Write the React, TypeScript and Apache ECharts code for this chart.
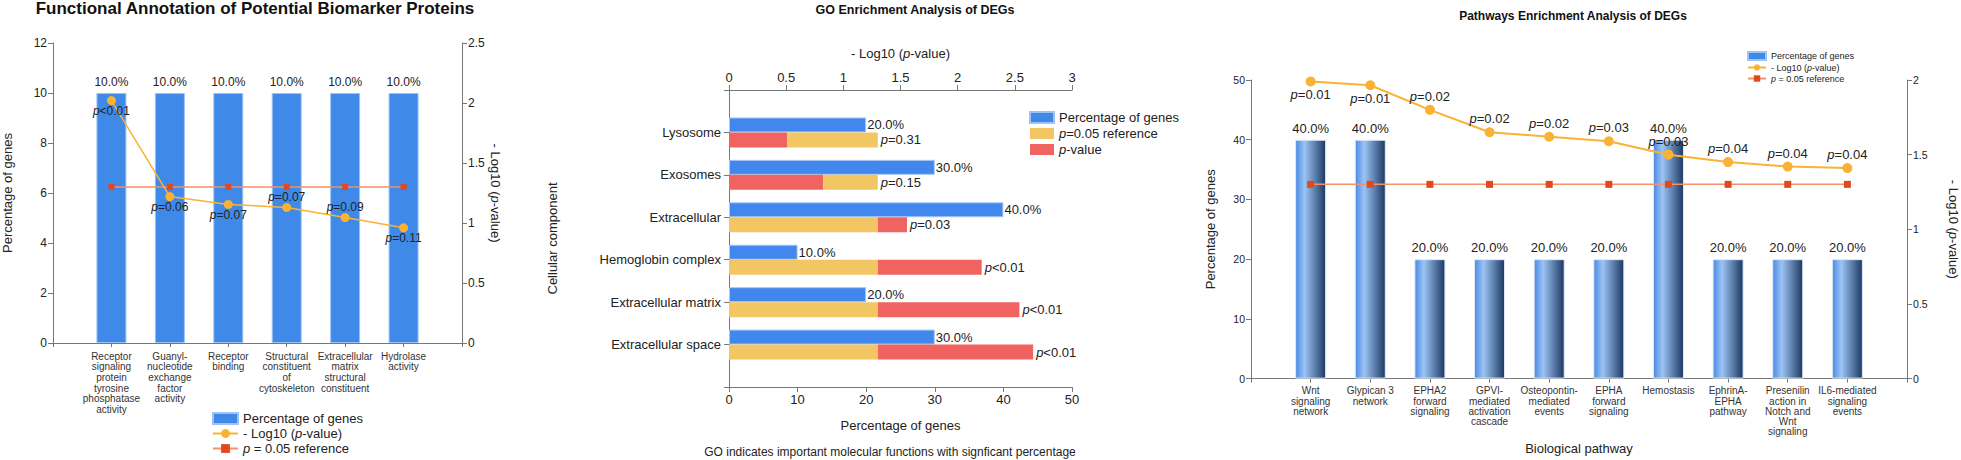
import React, { useEffect, useRef } from 'react';
import * as echarts from 'echarts';

const FONT = 'Arial, "Liberation Sans", Helvetica, sans-serif';

// ---------- Panel 1: Functional annotation ----------
const funcCategories = [
  'Receptor\nsignaling\nprotein\ntyrosine\nphosphatase\nactivity',
  'Guanyl-\nnucleotide\nexchange\nfactor\nactivity',
  'Receptor\nbinding',
  'Structural\nconstituent\nof\ncytoskeleton',
  'Extracellular\nmatrix\nstructural\nconstituent',
  'Hydrolase\nactivity',
];
const funcPercent = [10, 10, 10, 10, 10, 10];
const funcLogP = [2.02, 1.22, 1.155, 1.13, 1.046, 0.96];
const funcPText = ['<0.01', '=0.06', '=0.07', '=0.07', '=0.09', '=0.11'];

// ---------- Panel 2: GO enrichment ----------
const goCategories = [
  'Lysosome',
  'Exosomes',
  'Extracellular',
  'Hemoglobin complex',
  'Extracellular matrix',
  'Extracellular space',
];
const goPercent = [20, 30, 40, 10, 20, 30];
const goLogP = [0.509, 0.824, 1.557, 2.21, 2.54, 2.66];
const goPText = ['=0.31', '=0.15', '=0.03', '<0.01', '<0.01', '<0.01'];

// ---------- Panel 3: Pathway enrichment ----------
const pathCategories = [
  'Wnt\nsignaling\nnetwork',
  'Glypican 3\nnetwork',
  'EPHA2\nforward\nsignaling',
  'GPVI-\nmediated\nactivation\ncascade',
  'Osteopontin-\nmediated\nevents',
  'EPHA\nforward\nsignaling',
  'Hemostasis',
  'EphrinA-\nEPHA\npathway',
  'Presenilin\naction in\nNotch and\nWnt\nsignaling',
  'IL6-mediated\nsignaling\nevents',
];
const pathPercent = [40, 40, 20, 20, 20, 20, 40, 20, 20, 20];
const pathLogP = [1.99, 1.965, 1.8, 1.65, 1.62, 1.59, 1.5, 1.45, 1.42, 1.41];
const pathPText = ['=0.01', '=0.01', '=0.02', '=0.02', '=0.02', '=0.03', '=0.03', '=0.04', '=0.04', '=0.04'];

// -log10(0.05)
const P05_LOG = 1.301;

const padCats = (c: string[]) => [' ', ...c, '  '];
const padData = (d: any[]) => ['-', ...d, '-'];

const TXT = '#222';
const AX = '#777';

function buildOption() {
  const funcPos = ['bottom', 'bottom', 'bottom', 'top', 'top', 'bottom'];
  const pathPos = ['bottom', 'bottom', 'top', 'top', 'top', 'top', 'top', 'top', 'top', 'top'];
  const italic = { i: { fontStyle: 'italic', fontFamily: FONT } };
  const pctLabel = (p: any) => Number(p.value).toFixed(1) + '%';
  const logName = '- Log10 ({i|p}-value)';

  const valueAxisCommon = (fs: number) => ({
    axisLine: { show: true, lineStyle: { color: AX, width: 1 } },
    axisTick: { show: true, length: 5, lineStyle: { color: AX } },
    splitLine: { show: false },
    axisLabel: { fontSize: fs, color: TXT, fontFamily: FONT, margin: 6 },
  });

  const barGradient = new echarts.graphic.LinearGradient(0, 0, 1, 0, [
    { offset: 0, color: '#4a8ae4' },
    { offset: 0.3, color: '#9cc4f4' },
    { offset: 1, color: '#1c3862' },
  ]);

  return {
    animation: false,
    backgroundColor: '#ffffff',
    textStyle: { fontFamily: FONT },
    title: [
      {
        text: 'Functional Annotation of Potential Biomarker Proteins',
        left: 255,
        top: 0,
        padding: 0,
        textAlign: 'center',
        textStyle: { fontSize: 17, fontWeight: 'bold', color: '#111', fontFamily: FONT },
      },
      {
        text: 'GO Enrichment Analysis of DEGs',
        left: 915,
        top: 3,
        padding: 0,
        textAlign: 'center',
        textStyle: { fontSize: 12.5, fontWeight: 'bold', color: '#111', fontFamily: FONT },
      },
      {
        text: 'Pathways Enrichment Analysis of DEGs',
        left: 1573,
        top: 10,
        padding: 0,
        textAlign: 'center',
        textStyle: { fontSize: 12, fontWeight: 'bold', color: '#111', fontFamily: FONT },
      },
      {
        text: 'GO indicates important molecular functions with signficant percentage',
        left: 890,
        top: 446,
        padding: 0,
        textAlign: 'center',
        textStyle: { fontSize: 12, fontWeight: 'normal', color: TXT, fontFamily: FONT },
      },
    ],
    legend: [
      {
        orient: 'vertical',
        left: 212,
        top: 412,
        height: 80,
        padding: 0,
        itemWidth: 25,
        itemHeight: 11,
        itemGap: 2,
        textStyle: { fontSize: 13, color: TXT, fontFamily: FONT, rich: { i: { fontStyle: 'italic', fontSize: 13 } } },
        data: [
          { name: 'Percentage of genes', icon: 'rect' },
          { name: '- Log10 (p-value)' },
          { name: 'p = 0.05 reference' },
        ],
        formatter: (n: string) =>
          n === '- Log10 (p-value)' ? '- Log10 ({i|p}-value)' : n === 'p = 0.05 reference' ? '{i|p} = 0.05 reference' : n,
      },
      {
        orient: 'vertical',
        left: 1029,
        top: 111,
        padding: 0,
        itemWidth: 24,
        itemHeight: 11,
        itemGap: 3,
        textStyle: { fontSize: 13, color: TXT, fontFamily: FONT, rich: { i: { fontStyle: 'italic', fontSize: 13 } } },
        data: [
          { name: 'Percentage of genes', icon: 'rect' },
          { name: 'p=0.05 reference', icon: 'rect' },
          { name: 'p-value', icon: 'rect' },
        ],
        formatter: (n: string) =>
          n === 'p=0.05 reference' ? '{i|p}=0.05 reference' : n === 'p-value' ? '{i|p}-value' : n,
      },
      {
        orient: 'vertical',
        left: 1747,
        top: 51,
        padding: 0,
        itemWidth: 18,
        itemHeight: 8,
        itemGap: 2,
        textStyle: { fontSize: 9, color: TXT, fontFamily: FONT, rich: { i: { fontStyle: 'italic', fontSize: 9 } } },
        data: [
          { name: 'Percentage of genes', icon: 'rect' },
          { name: '- Log10 (p-value)' },
          { name: 'p = 0.05 reference' },
        ],
        formatter: (n: string) =>
          n === '- Log10 (p-value)' ? '- Log10 ({i|p}-value)' : n === 'p = 0.05 reference' ? '{i|p} = 0.05 reference' : n,
      },
    ],
    grid: [
      { left: 53, top: 43, width: 409, height: 300 },
      { left: 729, top: 90, width: 343, height: 297 },
      { left: 1251, top: 80, width: 656, height: 305 },
    ],
    xAxis: [
      {
        type: 'category',
        gridIndex: 0,
        data: padCats(funcCategories),
        boundaryGap: false,
        axisLine: { show: true, lineStyle: { color: AX } },
        axisTick: { show: true, length: 4, lineStyle: { color: AX } },
        axisLabel: { interval: 0, fontSize: 10, lineHeight: 10.6, color: '#333', margin: 8, fontFamily: FONT },
      },
      {
        type: 'value',
        gridIndex: 1,
        position: 'bottom',
        min: 0,
        max: 50,
        interval: 10,
        name: 'Percentage of genes',
        nameLocation: 'middle',
        nameGap: 32,
        nameTextStyle: { fontSize: 13, color: TXT, fontFamily: FONT },
        ...valueAxisCommon(13),
      },
      {
        type: 'value',
        gridIndex: 1,
        position: 'top',
        min: 0,
        max: 3,
        interval: 0.5,
        name: logName,
        nameLocation: 'middle',
        nameGap: 30,
        nameTextStyle: { fontSize: 13, color: TXT, fontFamily: FONT, rich: italic },
        ...valueAxisCommon(13),
      },
      {
        type: 'category',
        gridIndex: 2,
        data: padCats(pathCategories),
        boundaryGap: false,
        name: 'Biological pathway',
        nameLocation: 'middle',
        nameGap: 56,
        nameTextStyle: { fontSize: 13, color: TXT, fontFamily: FONT },
        axisLine: { show: true, lineStyle: { color: AX } },
        axisTick: { show: true, length: 4, lineStyle: { color: AX } },
        axisLabel: { interval: 0, fontSize: 10, lineHeight: 10.3, color: '#333', margin: 7, fontFamily: FONT },
      },
    ],
    yAxis: [
      {
        type: 'value',
        gridIndex: 0,
        position: 'left',
        min: 0,
        max: 12,
        interval: 2,
        name: 'Percentage of genes',
        nameLocation: 'middle',
        nameGap: 39,
        nameTextStyle: { fontSize: 13, color: TXT, fontFamily: FONT },
        ...valueAxisCommon(12),
      },
      {
        type: 'value',
        gridIndex: 0,
        position: 'right',
        min: 0,
        max: 2.5,
        interval: 0.5,
        name: logName,
        nameLocation: 'middle',
        nameRotate: -90,
        nameGap: 21,
        nameTextStyle: { fontSize: 13, color: TXT, fontFamily: FONT, rich: italic },
        ...valueAxisCommon(12),
      },
      {
        type: 'category',
        gridIndex: 1,
        inverse: true,
        data: padCats(goCategories),
        boundaryGap: false,
        name: 'Cellular component',
        nameLocation: 'middle',
        nameGap: 170,
        nameTextStyle: { fontSize: 13, color: TXT, fontFamily: FONT },
        axisLine: { show: true, lineStyle: { color: AX } },
        axisTick: { show: true, length: 5, lineStyle: { color: AX } },
        axisLabel: { interval: 0, fontSize: 13, color: TXT, margin: 8, fontFamily: FONT },
      },
      {
        type: 'value',
        gridIndex: 2,
        position: 'left',
        min: 0,
        max: 50,
        interval: 10,
        name: 'Percentage of genes',
        nameLocation: 'middle',
        nameGap: 34,
        nameTextStyle: { fontSize: 13, color: TXT, fontFamily: FONT },
        ...valueAxisCommon(10.5),
      },
      {
        type: 'value',
        gridIndex: 2,
        position: 'right',
        min: 0,
        max: 2,
        interval: 0.5,
        name: logName,
        nameLocation: 'middle',
        nameRotate: -90,
        nameGap: 40,
        nameTextStyle: { fontSize: 13, color: TXT, fontFamily: FONT, rich: italic },
        ...valueAxisCommon(10.5),
      },
    ],
    series: [
      // Panel 1
      {
        type: 'bar',
        name: 'Percentage of genes',
        xAxisIndex: 0,
        yAxisIndex: 0,
        barWidth: 30,
        data: padData(funcPercent),
        itemStyle: { color: '#3f8ae8', borderColor: '#9fc2f3', borderWidth: 1 },
        label: { show: true, position: 'top', distance: 5, formatter: pctLabel, fontSize: 12, color: TXT, fontFamily: FONT },
      },
      {
        type: 'line',
        name: '- Log10 (p-value)',
        xAxisIndex: 0,
        yAxisIndex: 1,
        symbol: 'circle',
        symbolSize: 9,
        itemStyle: { color: '#f9b233' },
        lineStyle: { color: '#f9b233', width: 1.5 },
        data: padData(funcLogP.map((v, i) => ({ value: v, label: { position: funcPos[i] } }))),
        label: {
          show: true,
          distance: 0,
          fontSize: 12,
          color: TXT,
          fontFamily: FONT,
          formatter: (p: any) => '{i|p}' + funcPText[p.dataIndex - 1],
          rich: { i: { fontStyle: 'italic', fontSize: 12, fontFamily: FONT, color: TXT } },
        },
        z: 5,
      },
      {
        type: 'line',
        name: 'p = 0.05 reference',
        xAxisIndex: 0,
        yAxisIndex: 1,
        symbol: 'rect',
        symbolSize: 6,
        itemStyle: { color: '#e2481c' },
        lineStyle: { color: '#f4906a', width: 1.5 },
        data: padData(funcLogP.map(() => P05_LOG)),
        z: 4,
      },
      // Panel 2
      {
        type: 'bar',
        name: 'Percentage of genes',
        xAxisIndex: 1,
        yAxisIndex: 2,
        barWidth: 15,
        barGap: '0%',
        data: padData(goPercent),
        itemStyle: { color: '#4287ee', borderColor: '#a9c8f5', borderWidth: 1 },
        label: { show: true, position: 'right', distance: 1, formatter: pctLabel, fontSize: 13, color: TXT, fontFamily: FONT },
      },
      {
        type: 'bar',
        name: 'p-value',
        xAxisIndex: 2,
        yAxisIndex: 2,
        stack: 'p',
        barWidth: 15,
        barGap: '0%',
        data: padData(goLogP.map((v) => (v < P05_LOG ? v : 0))),
        itemStyle: { color: '#f06361' },
      },
      {
        type: 'bar',
        name: 'p=0.05 reference',
        xAxisIndex: 2,
        yAxisIndex: 2,
        stack: 'p',
        barWidth: 15,
        barGap: '0%',
        data: padData(goLogP.map((v) => (v < P05_LOG ? P05_LOG - v : P05_LOG))),
        itemStyle: { color: '#f1c663' },
      },
      {
        type: 'bar',
        name: 'p-value',
        xAxisIndex: 2,
        yAxisIndex: 2,
        stack: 'p',
        barWidth: 15,
        barGap: '0%',
        data: padData(goLogP.map((v) => (v > P05_LOG ? v - P05_LOG : 0))),
        itemStyle: { color: '#f06361' },
        label: {
          show: true,
          position: 'right',
          distance: 3,
          fontSize: 13,
          color: TXT,
          fontFamily: FONT,
          formatter: (p: any) => '{i|p}' + goPText[p.dataIndex - 1],
          rich: { i: { fontStyle: 'italic', fontSize: 13, fontFamily: FONT, color: TXT } },
        },
      },
      // Panel 3
      {
        type: 'bar',
        name: 'Percentage of genes',
        xAxisIndex: 3,
        yAxisIndex: 3,
        barWidth: 31,
        data: padData(pathPercent),
        itemStyle: { color: barGradient, borderColor: '#dfe9f7', borderWidth: 1 },
        label: { show: true, position: 'top', distance: 5, formatter: pctLabel, fontSize: 13, color: TXT, fontFamily: FONT },
      },
      {
        type: 'line',
        name: 'p = 0.05 reference',
        xAxisIndex: 3,
        yAxisIndex: 4,
        symbol: 'rect',
        symbolSize: 7,
        itemStyle: { color: '#e2481c' },
        lineStyle: { color: '#f4906a', width: 1.5 },
        data: padData(pathLogP.map(() => P05_LOG)),
        z: 4,
      },
      {
        type: 'line',
        name: '- Log10 (p-value)',
        xAxisIndex: 3,
        yAxisIndex: 4,
        symbol: 'circle',
        symbolSize: 10,
        itemStyle: { color: '#f9b233' },
        lineStyle: { color: '#f9b233', width: 2 },
        data: padData(pathLogP.map((v, i) => ({ value: v, label: { position: pathPos[i] } }))),
        label: {
          show: true,
          distance: 2,
          fontSize: 13,
          color: TXT,
          fontFamily: FONT,
          formatter: (p: any) => '{i|p}' + pathPText[p.dataIndex - 1],
          rich: { i: { fontStyle: 'italic', fontSize: 13, fontFamily: FONT, color: TXT } },
        },
        z: 5,
      },
    ],
  };
}

export default function App() {
  const ref = useRef<HTMLDivElement>(null);
  useEffect(() => {
    if (!ref.current) return;
    const chart = echarts.init(ref.current, undefined, { renderer: 'svg' });
    chart.setOption(buildOption() as any);
    return () => chart.dispose();
  }, []);
  return (
    <div
      ref={ref}
      style={{ position: 'absolute', left: 0, top: 0, width: 1961, height: 460, background: '#fff' }}
    />
  );
}
